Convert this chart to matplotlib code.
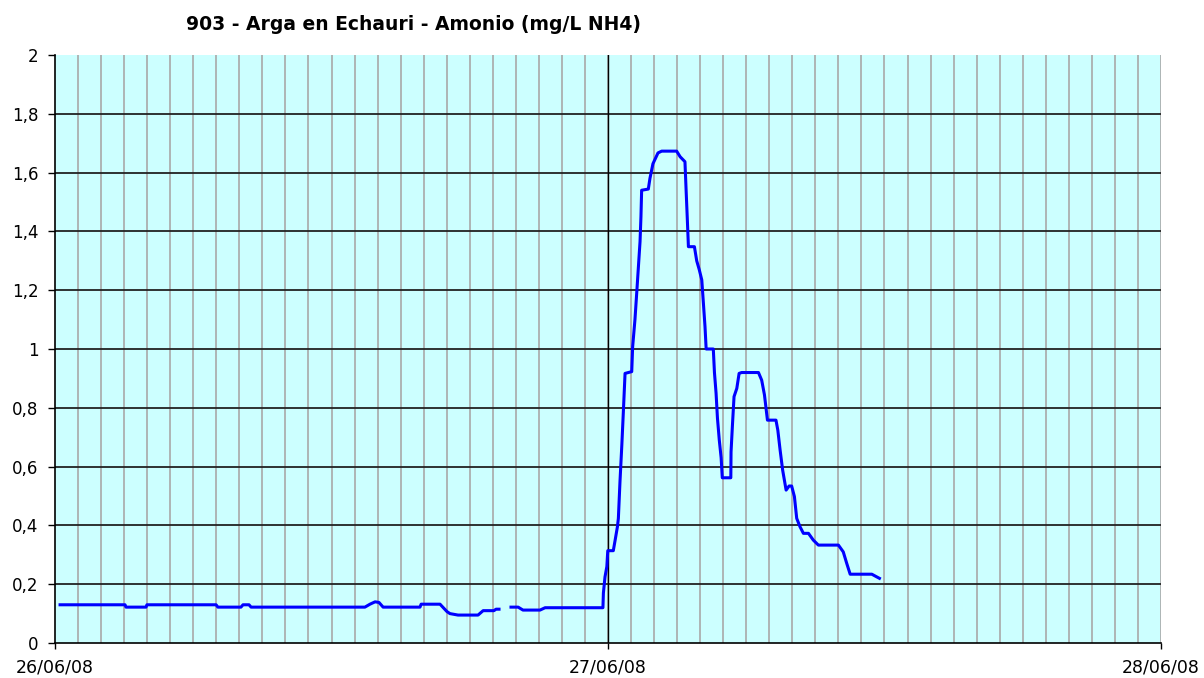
import numpy as np
import matplotlib
matplotlib.use("Agg")
import matplotlib.pyplot as plt

# hours since 26/06/08 00:00 and ammonium values (mg/L NH4), NaN = gap in record
horas = [0.22, 3.04, 3.08, 3.95, 3.99, 6.99, 7.07, 8.07, 8.16, 8.42, 8.51, 13.45,
         13.67, 13.89, 14.06, 14.24, 15.84, 15.89, 16.71, 17.01, 17.14, 17.49,
         18.36, 18.58, 19.05, 19.14, 19.27, 19.5,
         19.79, 20.10, 20.31, 21.05, 21.27, 23.78, 23.80, 23.87, 23.95, 23.99,
         24.23, 24.31, 24.41, 24.45, 24.52, 24.60, 24.67, 24.74, 25.03, 25.07,
         25.17, 25.25, 25.32, 25.39, 25.43, 25.46, 25.75, 25.82, 25.95, 26.17,
         26.33, 26.98, 27.13, 27.34, 27.39, 27.44, 27.49, 27.75, 27.85, 27.96,
         28.07, 28.14, 28.21, 28.26, 28.57, 28.62, 28.69, 28.75, 28.83, 28.91,
         28.96, 29.33, 29.34, 29.40, 29.47, 29.59, 29.69, 29.80, 30.53, 30.67,
         30.79, 30.92, 31.29, 31.37, 31.47, 31.58, 31.73, 31.86, 31.97, 32.09,
         32.19, 32.33, 32.48, 32.70, 32.91, 33.13, 34.00, 34.21, 34.36, 34.51,
         35.45, 35.66, 35.78]
amonio = [0.13, 0.13, 0.122, 0.122, 0.13, 0.13, 0.122, 0.122, 0.13, 0.13, 0.122, 0.122,
          0.132, 0.14, 0.138, 0.122, 0.122, 0.132, 0.132, 0.107, 0.10, 0.095,
          0.095, 0.11, 0.11, 0.115, 0.115, np.nan,
          0.122, 0.122, 0.112, 0.112, 0.12, 0.12, 0.17, 0.225, 0.26, 0.314,
          0.314, 0.35, 0.396, 0.424, 0.549, 0.673, 0.793, 0.917, 0.923, 1.008,
          1.10, 1.195, 1.28, 1.365, 1.45, 1.54, 1.544, 1.58, 1.63, 1.667,
          1.673, 1.673, 1.654, 1.637, 1.54, 1.446, 1.348, 1.348, 1.30, 1.27,
          1.235, 1.156, 1.076, 1.0, 1.0, 0.92, 0.85, 0.765, 0.69, 0.63,
          0.562, 0.562, 0.65, 0.74, 0.838, 0.866, 0.917, 0.92, 0.92, 0.894,
          0.844, 0.758, 0.758, 0.724, 0.656, 0.588, 0.52, 0.534, 0.534, 0.498,
          0.424, 0.396, 0.373, 0.373, 0.35, 0.333, 0.333, 0.31, 0.271, 0.234,
          0.234, 0.225, 0.22]

fechas = ["26/06/08", "27/06/08", "28/06/08"]
y_ticks = [0, 0.2, 0.4, 0.6, 0.8, 1.0, 1.2, 1.4, 1.6, 1.8, 2.0]
y_labels = ["0", "0,2", "0,4", "0,6", "0,8", "1", "1,2", "1,4", "1,6", "1,8", "2"]

W, H = 1204, 678
fig = plt.figure(figsize=(W / 100, H / 100), dpi=100)
ax = fig.add_axes([55 / W, (H - 643) / H, (1161 - 55) / W, (643 - 55) / H])
ax.set_facecolor("#CCFFFF")

# hourly grey grid, black horizontal grid
for h in range(1, 49):
    ax.axvline(h, color="#A8A8A8", lw=1.2, zorder=1)
for v in y_ticks[1:-1]:
    ax.axhline(v, color="#222222", lw=1.3, zorder=1)
ax.axvline(24, color="black", lw=1.0, zorder=2)

ax.plot(horas, amonio, color="#0000FF", lw=2.2, zorder=3)

ax.set_xlim(0, 48)
ax.set_ylim(0, 2)
ax.set_xticks([0, 24, 48])
ax.set_xticklabels(fechas)
ax.set_yticks(y_ticks)
ax.set_yticklabels(y_labels)
ax.tick_params(axis="y", direction="out", length=5, width=1, pad=7, labelsize=12)
ax.tick_params(axis="x", direction="out", length=4.5, width=1, pad=7, labelsize=12.5)

ax.spines["top"].set_visible(False)
ax.spines["right"].set_visible(False)
ax.spines["left"].set_linewidth(1.2)
ax.spines["bottom"].set_linewidth(1.2)

fig.text(414 / W, 1 - 24 / H, "903 - Arga en Echauri - Amonio (mg/L NH4)",
         ha="center", va="center", fontsize=13.5, fontweight="bold")

fig.savefig("out.png", dpi=100, facecolor="white")
